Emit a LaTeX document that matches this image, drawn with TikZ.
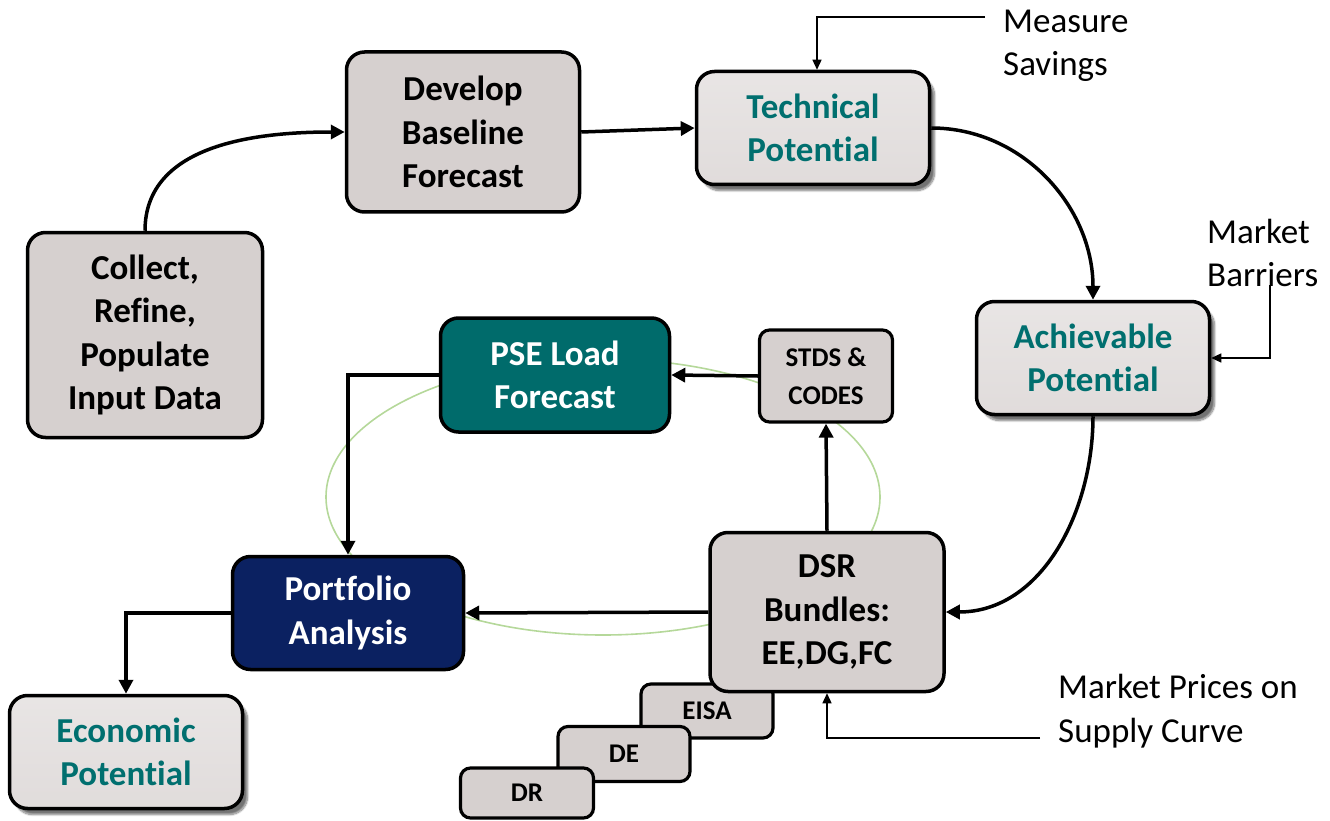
\documentclass[tikz,border=0pt]{standalone}
\usepackage{fontspec}
\setmainfont{Carlito}[Ligatures=NoCommon]
\usetikzlibrary{arrows.meta,shadows.blur}

\definecolor{boxgray}{HTML}{D6D0CF}
\definecolor{tealtext}{HTML}{006F6F}
\definecolor{tealfill}{HTML}{006B6B}
\definecolor{navyfill}{HTML}{0B2161}
\definecolor{ringgreen}{HTML}{B5D89A}

\begin{document}
\begin{tikzpicture}[
    x=1pt, y=-1pt,
    box/.style={draw=black, line width=3.5pt, rounded corners=18pt, fill=boxgray,
        align=center, font=\fontsize{35}{43.5}\selectfont\bfseries,
        inner sep=0pt},
    potbox/.style={box, top color=boxgray!55!white, bottom color=boxgray!75!white,
        text=tealtext,
        blur shadow={shadow xshift=5pt, shadow yshift=-6pt, shadow blur steps=10,
        shadow opacity=55, shadow blur extra rounding=4pt}},
    smallbox/.style={box, rounded corners=10pt, line width=3.2pt,
        font=\fontsize{27}{38}\selectfont\bfseries},
    flow/.style={line width=3.5pt, -{Triangle[length=14pt,width=14pt]}},
    feed/.style={line width=1.3pt, -{Triangle[length=10pt,width=9pt]}},
    label/.style={align=left, font=\fontsize{35}{43.5}\selectfont, inner sep=0pt}
]
\useasboundingbox (0,0) rectangle (1330,821);

% Ring
\draw[ringgreen, line width=1.6pt] (603,497) ellipse [x radius=277, y radius=138];

% Boxes
\node[box, minimum width=235pt, minimum height=205pt] (col) at (145,335)
    {Collect,\\Refine,\\Populate\\Input Data};
\node[box, minimum width=233pt, minimum height=160pt] (dev) at (463,132)
    {Develop\\Baseline\\Forecast};
\node[potbox, minimum width=233pt, minimum height=113pt] (tech) at (813,128)
    {Technical\\Potential};
\node[potbox, minimum width=233pt, minimum height=113pt] (ach) at (1093,358)
    {Achievable\\Potential};
\node[box, fill=tealfill, text=white, minimum width=229pt, minimum height=114pt] (pse) at (555,375)
    {PSE Load\\Forecast};
\node[smallbox, minimum width=133pt, minimum height=92pt] (stds) at (826,376)
    {STDS \&\\CODES};
\node[box, fill=navyfill, text=white, minimum width=231pt, minimum height=113pt] (port) at (348,613)
    {Portfolio\\Analysis};
\node[potbox, minimum width=233pt, minimum height=113pt] (econ) at (126,752)
    {Economic\\Potential};

% Bundles
\node[smallbox, minimum width=132pt, minimum height=54pt] (eisa) at (707,711) {EISA};
\node[smallbox, minimum width=132pt, minimum height=55pt] (de) at (624,754) {DE};
\node[smallbox, minimum width=133pt, minimum height=50pt] (dr) at (527,793) {DR};
\node[box, minimum width=234pt, minimum height=159pt] (dsr) at (827,612)
    {DSR\\Bundles:\\EE,DG,FC};

% Labels
\node[label, anchor=west] (msav) at (1003,46) {Measure\\Savings};
\node[label, anchor=west] (mbar) at (1207,253) {Market\\Barriers};
\node[label, anchor=west] (mpri) at (1058,711) {Market Prices on\\Supply Curve};
\coordinate (msavend) at (985,17);
\coordinate (mbarend) at (1270,285);
\coordinate (mpriend) at (1040,738);

% Main flow
\draw[flow] (col.north) to[out=90, in=180] (dev.west);
\draw[flow] (dev.east) -- (tech.west);
\draw[flow] (tech.east) to[out=0, in=90] (ach.north);
\draw[flow] (ach.south) to[out=-90, in=0] (dsr.east);
\draw[flow] (dsr.north) -- (stds.south);
\draw[flow] (stds.west) -- (pse.east);
\draw[flow] (pse.west) -| (port.north);
\draw[flow] (dsr.west) -- (port.east);
\draw[flow] (port.west) -| (econ.north);

% Inputs
\draw[feed] (msavend) -| ([xshift=4pt]tech.north);
\draw[feed] (mbarend) |- (ach.east);
\draw[feed] (mpriend) -| (dsr.south);

\end{tikzpicture}
\end{document}
